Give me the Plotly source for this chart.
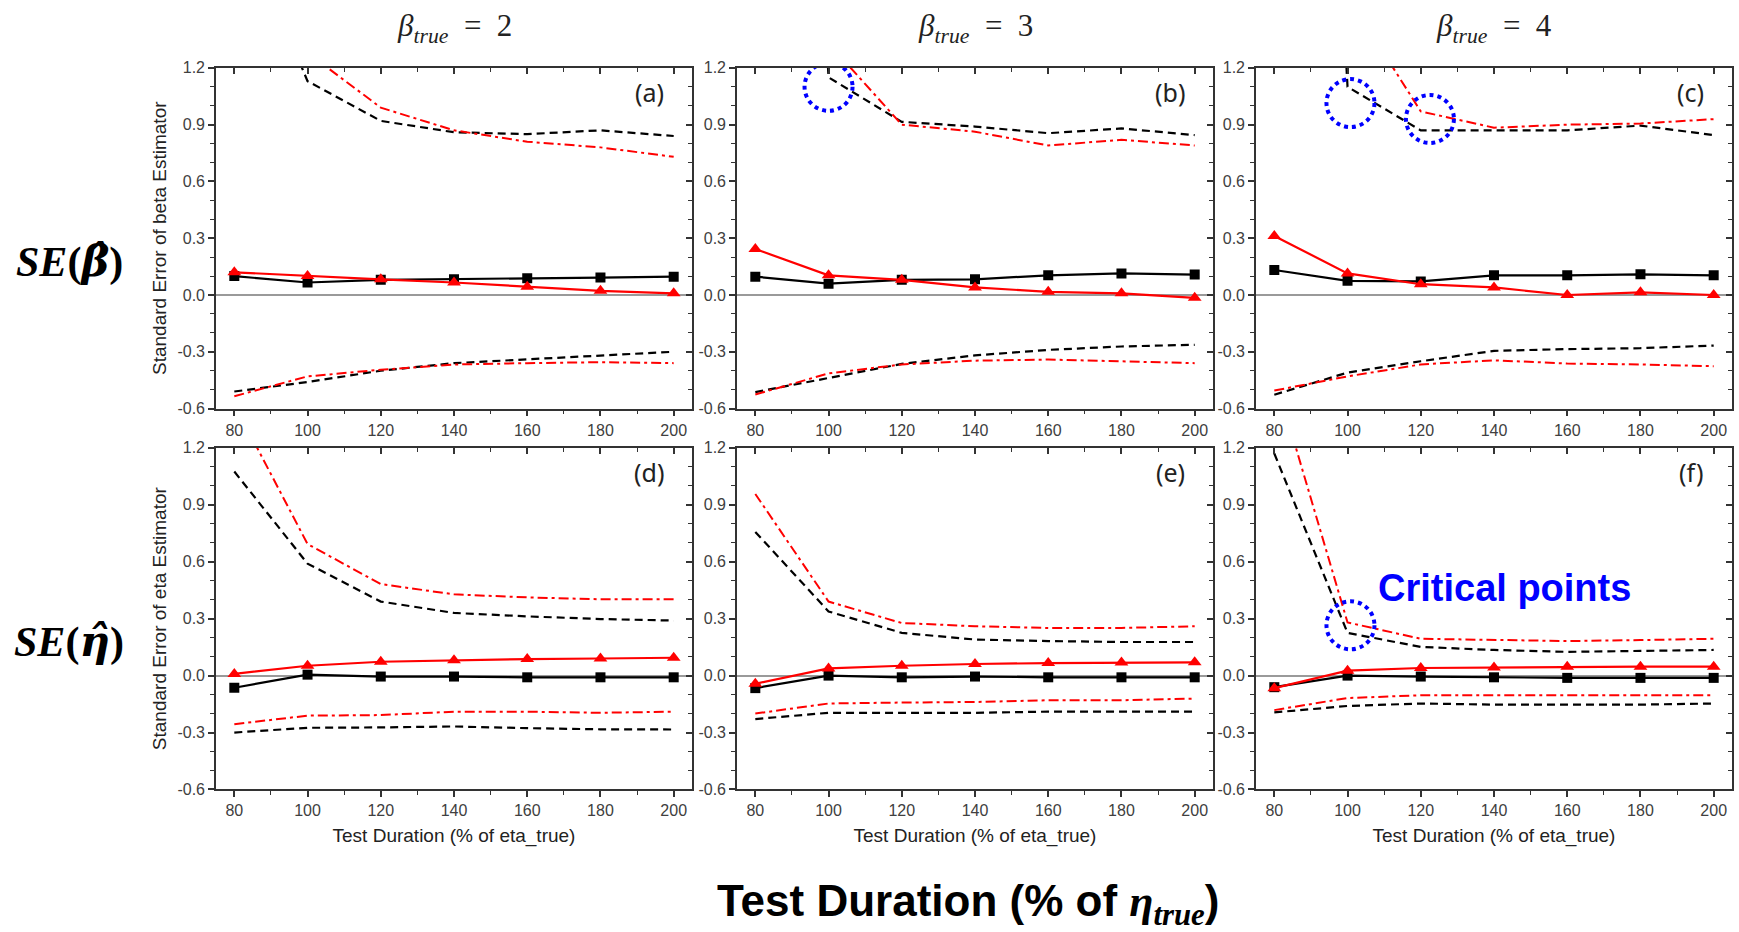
import plotly.graph_objects as go

# ---------------- data ----------------
x_vals = [80, 100, 120, 140, 160, 180, 200]
x_tick_vals = [80, 100, 120, 140, 160, 180, 200]
x_tick_text = ["80", "100", "120", "140", "160", "180", "200"]
y_tick_vals = [-0.6, -0.3, 0.0, 0.3, 0.6, 0.9, 1.2]
y_tick_text = ["-0.6", "-0.3", "0.0", "0.3", "0.6", "0.9", "1.2"]

col_titles = ["<i>β</i><sub><i>true</i></sub>&nbsp;&nbsp;=&nbsp;&nbsp;2",
              "<i>β</i><sub><i>true</i></sub>&nbsp;&nbsp;=&nbsp;&nbsp;3",
              "<i>β</i><sub><i>true</i></sub>&nbsp;&nbsp;=&nbsp;&nbsp;4"]
panel_labels = ["(a)", "(b)", "(c)", "(d)", "(e)", "(f)"]

# panel (a)
a_black_mean = [0.100, 0.066, 0.080, 0.083, 0.088, 0.092, 0.097]
a_red_mean = [0.120, 0.100, 0.083, 0.066, 0.043, 0.022, 0.009]
a_black_up = [2.05, 1.13, 0.92, 0.86, 0.85, 0.87, 0.84]
a_black_lo = [-0.51, -0.46, -0.40, -0.36, -0.34, -0.32, -0.30]
a_red_up = [2.40, 1.28, 0.99, 0.87, 0.81, 0.78, 0.73]
a_red_lo = [-0.535, -0.43, -0.395, -0.367, -0.36, -0.355, -0.36]
# panel (b)
b_black_mean = [0.097, 0.060, 0.080, 0.083, 0.104, 0.114, 0.108]
b_red_mean = [0.243, 0.104, 0.080, 0.040, 0.017, 0.009, -0.015]
b_black_up = [8.0, 1.15, 0.915, 0.89, 0.855, 0.88, 0.845]
b_black_lo = [-0.513, -0.437, -0.364, -0.319, -0.29, -0.272, -0.263]
b_red_up = [3.0, 1.33, 0.90, 0.863, 0.79, 0.82, 0.79]
b_red_lo = [-0.526, -0.414, -0.367, -0.347, -0.341, -0.35, -0.36]
# panel (c)
c_black_mean = [0.132, 0.075, 0.072, 0.104, 0.104, 0.109, 0.104]
c_red_mean = [0.312, 0.114, 0.057, 0.040, 0.0, 0.014, 0.0]
c_black_up = [8.0, 1.10, 0.87, 0.87, 0.87, 0.895, 0.845]
c_black_lo = [-0.527, -0.41, -0.35, -0.295, -0.286, -0.281, -0.267]
c_red_up = [3.0, 1.58, 0.97, 0.884, 0.90, 0.906, 0.929]
c_red_lo = [-0.505, -0.43, -0.367, -0.345, -0.362, -0.367, -0.376]
# panel (d)
d_black_mean = [-0.064, 0.005, -0.005, -0.005, -0.009, -0.009, -0.009]
d_red_mean = [0.009, 0.052, 0.073, 0.081, 0.087, 0.090, 0.094]
d_black_up = [1.075, 0.59, 0.39, 0.33, 0.312, 0.298, 0.29]
d_black_lo = [-0.30, -0.275, -0.273, -0.268, -0.277, -0.283, -0.284]
d_red_up = [1.43, 0.693, 0.482, 0.428, 0.412, 0.402, 0.402]
d_red_lo = [-0.256, -0.211, -0.208, -0.19, -0.19, -0.196, -0.19]
# panel (e)
e_black_mean = [-0.066, 0.0, -0.009, -0.005, -0.009, -0.009, -0.009]
e_red_mean = [-0.043, 0.038, 0.052, 0.061, 0.066, 0.069, 0.070]
e_black_up = [0.757, 0.338, 0.225, 0.19, 0.182, 0.177, 0.177]
e_black_lo = [-0.229, -0.196, -0.196, -0.196, -0.19, -0.19, -0.19]
e_red_up = [0.957, 0.39, 0.277, 0.26, 0.251, 0.251, 0.26]
e_red_lo = [-0.20, -0.147, -0.142, -0.139, -0.13, -0.13, -0.121]
# panel (f)
f_black_mean = [-0.061, 0.0, -0.005, -0.009, -0.012, -0.012, -0.012]
f_red_mean = [-0.066, 0.026, 0.040, 0.043, 0.047, 0.047, 0.047]
f_black_up = [1.17, 0.225, 0.151, 0.135, 0.125, 0.13, 0.135]
f_black_lo = [-0.194, -0.16, -0.147, -0.153, -0.153, -0.153, -0.147]
f_red_up = [1.585, 0.28, 0.194, 0.187, 0.182, 0.187, 0.194]
f_red_lo = [-0.182, -0.118, -0.104, -0.104, -0.104, -0.104, -0.104]

panels = [
    (a_black_mean, a_red_mean, a_black_up, a_black_lo, a_red_up, a_red_lo),
    (b_black_mean, b_red_mean, b_black_up, b_black_lo, b_red_up, b_red_lo),
    (c_black_mean, c_red_mean, c_black_up, c_black_lo, c_red_up, c_red_lo),
    (d_black_mean, d_red_mean, d_black_up, d_black_lo, d_red_up, d_red_lo),
    (e_black_mean, e_red_mean, e_black_up, e_black_lo, e_red_up, e_red_lo),
    (f_black_mean, f_red_mean, f_black_up, f_black_lo, f_red_up, f_red_lo),
]

# critical-point markers (panel index, x, y)
circle_panels = [1, 2, 2, 5]
circle_x = [100, 100.8, 122.5, 100.8]
circle_y = [1.10, 1.014, 0.93, 0.265]

# ---------------- layout geometry ----------------
W, H = 1739, 932
col_px = [(216, 692), (737, 1213), (1256, 1732)]
row_px = [(61, 408), (448, 796)]

AX = "#333333"
BLUE = "#0000FF"
fig = go.Figure()
layout = {}

for idx, (bm, rm, bu, bl, ru, rl) in enumerate(panels):
    r, c = divmod(idx, 3)
    n = idx + 1
    xa = "x" if n == 1 else f"x{n}"
    ya = "y" if n == 1 else f"y{n}"
    xo, yo = f"x{n + 6}", f"y{n + 6}"

    for yv in (bu, bl):
        fig.add_trace(go.Scatter(x=x_vals, y=yv, mode="lines", xaxis=xa, yaxis=ya,
                                 line=dict(color="black", width=2.2, dash="8px,5px")))
    for yv in (ru, rl):
        fig.add_trace(go.Scatter(x=x_vals, y=yv, mode="lines", xaxis=xa, yaxis=ya,
                                 line=dict(color="#FF0000", width=2, dash="10px,4px,3px,4px")))
    fig.add_trace(go.Scatter(x=x_vals, y=bm, mode="lines+markers", xaxis=xa, yaxis=ya,
                             line=dict(color="black", width=2.2),
                             marker=dict(symbol="square", size=10, color="black")))
    fig.add_trace(go.Scatter(x=x_vals, y=rm, mode="lines+markers", xaxis=xa, yaxis=ya,
                             line=dict(color="#FF0000", width=2.2),
                             marker=dict(symbol="triangle-up", size=12, color="#FF0000")))
    # dummy traces so mirrored (inside-tick) axes are drawn
    fig.add_trace(go.Scatter(x=[], y=[], xaxis=xo, yaxis=ya, hoverinfo="skip"))
    fig.add_trace(go.Scatter(x=[], y=[], xaxis=xa, yaxis=yo, hoverinfo="skip"))

    x0, x1 = col_px[c]
    ytop, ybot = row_px[r]
    xdom = [x0 / W, x1 / W]
    ydom = [1 - ybot / H, 1 - ytop / H]

    xkey = "xaxis" if n == 1 else f"xaxis{n}"
    ykey = "yaxis" if n == 1 else f"yaxis{n}"
    common_x = dict(range=[75, 205], tickvals=x_tick_vals, showgrid=False, zeroline=False,
                    tickcolor=AX, tickwidth=1.5, linecolor=AX, linewidth=1.6, showline=True)
    common_y = dict(range=[-0.6, 1.2], tickvals=y_tick_vals, showgrid=False,
                    tickcolor=AX, tickwidth=1.5, linecolor=AX, linewidth=1.6, showline=True)

    layout[xkey] = dict(common_x, domain=xdom, anchor=ya, ticktext=x_tick_text,
                        ticks="outside", ticklen=6,
                        minor=dict(dtick=10, tick0=0, ticks="outside", ticklen=4,
                                   tickcolor=AX, tickwidth=1.2),
                        tickfont=dict(size=16, color="#404040"))
    if r == 1:
        layout[xkey]["title"] = dict(text="Test Duration (% of eta_true)",
                                     font=dict(size=19, color="#222"), standoff=10)
    layout[ykey] = dict(common_y, domain=ydom, anchor=xa, ticktext=y_tick_text,
                        ticks="outside", ticklen=6, zeroline=True,
                        zerolinecolor="#9a9a9a", zerolinewidth=2,
                        minor=dict(dtick=0.1, tick0=0, ticks="outside", ticklen=4,
                                   tickcolor=AX, tickwidth=1.2),
                        tickfont=dict(size=16, color="#404040"))
    if c == 0:
        layout[ykey]["title"] = dict(
            text="Standard Error of beta Estimator" if r == 0 else "Standard Error of eta Estimator",
            font=dict(size=19, color="#222"), standoff=6)

    layout[f"xaxis{n + 6}"] = dict(common_x, overlaying=xa, side="top", anchor=ya,
                                   ticks="inside", ticklen=6, showticklabels=False,
                                   minor=dict(dtick=10, tick0=0, ticks="inside", ticklen=4,
                                              tickcolor=AX, tickwidth=1.2))
    layout[f"yaxis{n + 6}"] = dict(common_y, overlaying=ya, side="right", anchor=xa,
                                   ticks="inside", ticklen=6, showticklabels=False, zeroline=False,
                                   minor=dict(dtick=0.1, tick0=0, ticks="inside", ticklen=4,
                                              tickcolor=AX, tickwidth=1.2))

annotations = []
for c, t in enumerate(col_titles):
    annotations.append(dict(text=t, x=(col_px[c][0] + col_px[c][1]) / 2 / W, y=1 - 20 / H,
                            xref="paper", yref="paper", showarrow=False,
                            xanchor="center", yanchor="middle",
                            font=dict(family="Liberation Serif", size=31, color="#222")))
for idx, lab in enumerate(panel_labels):
    n = idx + 1
    xa = "x" if n == 1 else f"x{n}"
    ya = "y" if n == 1 else f"y{n}"
    annotations.append(dict(text=lab, x=0.945, y=0.93, xref=f"{xa} domain", yref=f"{ya} domain",
                            xanchor="right", yanchor="middle", showarrow=False,
                            font=dict(family="Noto Sans", size=25, color="#222")))
hat_beta = ('<b><i>SE</i>(</b><span style="font-family:DejaVu Serif"><b><i>β̂</i></b></span><b>)</b>')
hat_eta = ('<b><i>SE</i>(</b><span style="font-family:DejaVu Serif"><b><i>η̂</i></b></span><b>)</b>')
annotations.append(dict(text=hat_beta, x=69 / W, y=1 - 258 / H,
                        xref="paper", yref="paper", showarrow=False,
                        xanchor="center", yanchor="middle",
                        font=dict(family="Liberation Serif", size=42, color="black")))
annotations.append(dict(text=hat_eta, x=69 / W, y=1 - 645 / H,
                        xref="paper", yref="paper", showarrow=False,
                        xanchor="center", yanchor="middle",
                        font=dict(family="Liberation Serif", size=42, color="black")))
annotations.append(dict(
    text='<b>Test Duration (% of </b><span style="font-family:Liberation Serif"><b><i>η</i></b><sub><b><i>true</i></b></sub></span><b>)</b>',
    x=968 / W, y=1 - 913 / H, xref="paper", yref="paper", showarrow=False,
    xanchor="center", yanchor="middle",
    font=dict(family="Liberation Sans", size=44, color="black")))
annotations.append(dict(text="<b>Critical points</b>", x=143, y=0.463, xref="x6", yref="y6",
                        showarrow=False, xanchor="center", yanchor="middle",
                        font=dict(family="Liberation Sans", size=38, color=BLUE)))

shapes = []
for p, cx, cy in zip(circle_panels, circle_x, circle_y):
    n = p + 1
    xa = "x" if n == 1 else f"x{n}"
    ya = "y" if n == 1 else f"y{n}"
    shapes.append(dict(type="circle", xref=xa, yref=ya, xsizemode="pixel", ysizemode="pixel",
                       xanchor=cx, yanchor=cy, x0=-24, x1=24, y0=-24, y1=24,
                       line=dict(color=BLUE, width=4, dash="dot")))

fig.update_layout(
    width=W, height=H, margin=dict(l=0, r=0, t=0, b=0),
    paper_bgcolor="white", plot_bgcolor="white", showlegend=False,
    font=dict(family="Liberation Sans", color="#333"),
    annotations=annotations, shapes=shapes, **layout)

fig.write_html("out.html")
